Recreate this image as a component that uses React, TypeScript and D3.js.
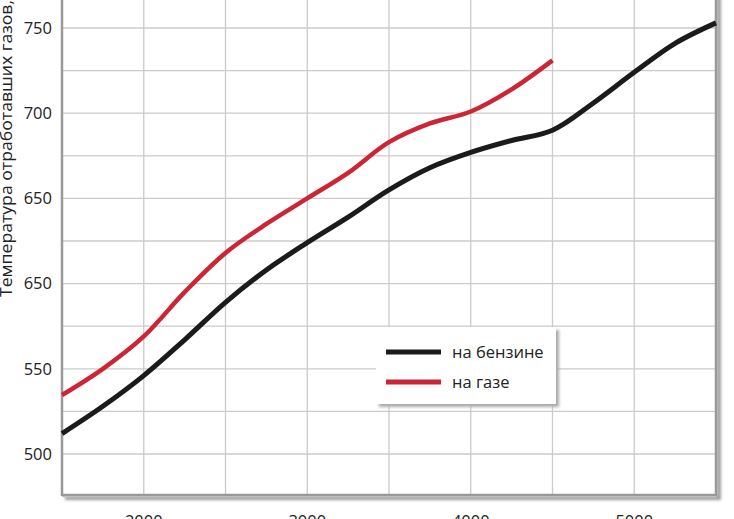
import React from "react";
import * as d3 from "d3";

const rpm = [1500, 1750, 2000, 2250, 2500, 2750, 3000, 3250, 3500, 3750, 4000, 4250, 4500, 4750, 5000, 5250, 5500];
const petrol = [512, 528, 546, 567, 589, 608, 624, 639, 655, 668, 677, 684, 690, 706, 724, 741, 753];
const gasRpm = [1500, 1750, 2000, 2250, 2500, 2750, 3000, 3250, 3500, 3750, 4000, 4250, 4500];
const gas = [534.6, 550, 569, 595, 618, 635, 650, 665, 683, 694, 701, 714, 731];
const yTickValues = [500, 550, 600, 650, 700, 750];
const yTickLabels = ["500", "550", "650", "650", "700", "750"];
const xTickValues = [2000, 3000, 4000, 5000];
const xTickLabels = ["2000", "3000", "4000", "5000"];
const seriesNames = ["на бензине", "на газе"];
const yTitle = "Температура отработавших газов,";

export default function App() {
  const W = 734, H = 519;
  const left = 62, right = 716, bottom = 495;
  const x = d3.scaleLinear().domain([1500, 5500]).range([left, right]);
  const y = d3.scaleLinear().domain([500, 750]).range([454, 28]);
  const yTop = 800;
  const gridY = d3.range(475, yTop + 1, 25);
  const gridX = d3.range(2000, 5501, 500);
  const line = d3.line<[number, number]>().x(d => x(d[0])).y(d => y(d[1])).curve(d3.curveCatmullRom.alpha(0.5));
  const petrolPts = rpm.map((r, i) => [r, petrol[i]] as [number, number]);
  const gasPts = gasRpm.map((r, i) => [r, gas[i]] as [number, number]);
  const font = "'Open Sans', 'Noto Sans', sans-serif";
  const gridColor = "#cbcbcb";
  const black = "#1b1b1b";
  const red = "#cc2535";
  return (
    <svg width={W} height={H} style={{ position: "absolute", left: 0, top: 0, background: "#fff" }} fontFamily={font}>
      <defs>
        <filter id="sh" x="-10%" y="-10%" width="130%" height="130%">
          <feGaussianBlur stdDeviation="1.5" />
        </filter>
      </defs>
      <rect x={0} y={0} width={W} height={H} fill="#fff" />
      <path d={`M${right + 3},${y(yTop)} L${right + 3},${bottom + 3} L${left + 3},${bottom + 3}`} fill="none" stroke="#9c9c9c" strokeWidth={4} filter="url(#sh)" />
      <rect x={left} y={y(yTop)} width={right - left} height={bottom - y(yTop)} fill="#fff" />
      {gridY.map(v => (
        <line key={"gy" + v} x1={left} x2={right} y1={y(v)} y2={y(v)} stroke={gridColor} strokeWidth={1.3} />
      ))}
      {gridX.map(v => (
        <line key={"gx" + v} x1={x(v)} x2={x(v)} y1={y(yTop)} y2={bottom} stroke={gridColor} strokeWidth={1.3} />
      ))}
      <line x1={left} x2={left} y1={y(yTop)} y2={bottom + 1} stroke="#999" strokeWidth={2.5} />
      <line x1={left} x2={right + 1} y1={bottom} y2={bottom} stroke="#999" strokeWidth={2.5} />
      <line x1={right} x2={right} y1={y(yTop)} y2={bottom + 1} stroke="#999" strokeWidth={2.5} />
      {yTickValues.map((v, i) => (
        <text key={"yt" + v} x={52} y={y(v)} dy="0.35em" textAnchor="end" fontSize={16.5} fill="#222">{yTickLabels[i]}</text>
      ))}
      {xTickValues.map((v, i) => (
        <text key={"xt" + v} x={x(v)} y={527} textAnchor="middle" fontSize={16.5} fill="#222">{xTickLabels[i]}</text>
      ))}
      <text transform={`translate(12,297) rotate(-90)`} textAnchor="start" fontSize={15.5} fill="#222" textLength={297} lengthAdjust="spacingAndGlyphs">{yTitle}</text>
      <path d={line(petrolPts) || ""} fill="none" stroke={black} strokeWidth={5} strokeLinecap="butt" />
      <path d={line(gasPts) || ""} fill="none" stroke={red} strokeWidth={4.5} strokeLinecap="butt" />
      <rect x={379} y={330} width={180} height={77} fill="#aaa" filter="url(#sh)" />
      <rect x={376} y={327} width={180} height={77} fill="#fff" />
      <line x1={386} x2={441} y1={352} y2={352} stroke={black} strokeWidth={5} />
      <text x={452} y={352} dy="0.35em" fontSize={16.5} fill="#222">{seriesNames[0]}</text>
      <line x1={386} x2={441} y1={382} y2={382} stroke={red} strokeWidth={5} />
      <text x={452} y={382} dy="0.35em" fontSize={16.5} fill="#222">{seriesNames[1]}</text>
    </svg>
  );
}
